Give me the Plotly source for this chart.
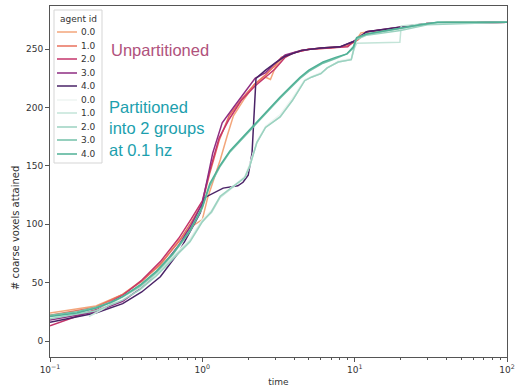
import plotly.graph_objects as go

# ---------------- data ----------------
agent_ids = ["0.0", "1.0", "2.0", "3.0", "4.0"]

# Unpartitioned runs
u0_t = [0.1, 0.2, 0.3, 0.4, 0.53, 0.7, 0.85, 1.0, 1.08, 1.31, 1.45, 1.6, 1.9, 2.2, 2.6, 2.8, 3.0, 3.3, 3.8, 4.5, 6, 8, 10, 11, 14, 20, 30, 40, 100]
u0_v = [24, 30, 40, 52, 65, 86, 98, 104, 122, 155, 175, 193, 208, 220, 226, 224, 234, 241, 246, 249, 251, 252, 256, 264, 266, 269, 272, 273, 273]
u1_t = [0.1, 0.2, 0.3, 0.4, 0.53, 0.7, 0.85, 1.0, 1.12, 1.29, 1.5, 1.8, 2.2, 2.6, 3.0, 3.3, 4, 5, 7, 9, 10.5, 12, 20, 30, 100]
u1_v = [22, 29, 40, 51, 66, 85, 102, 118, 144, 172, 193, 207, 220, 228, 236, 243, 247, 250, 251, 253, 258, 265, 268, 272, 273]
u2_t = [0.1, 0.2, 0.3, 0.4, 0.53, 0.7, 0.85, 1.0, 1.12, 1.29, 1.5, 1.8, 2.2, 2.6, 3.0, 3.5, 4, 5, 7, 9, 10.5, 12, 20, 30, 100]
u2_v = [13, 27, 39, 52, 68, 88, 105, 120, 146, 174, 190, 206, 218, 226, 233, 243, 247, 250, 251, 252, 260, 265, 268, 272, 273]
u3_t = [0.1, 0.2, 0.3, 0.4, 0.53, 0.7, 0.85, 1.0, 1.17, 1.35, 1.6, 2.22, 2.6, 3.0, 3.5, 4.5, 6, 8, 10, 12, 20, 30, 100]
u3_v = [18, 25, 34, 46, 62, 82, 100, 118, 161, 187, 200, 225, 230, 238, 245, 249, 251, 252, 257, 265, 269, 272, 273]
u4_t = [0.1, 0.2, 0.3, 0.4, 0.53, 0.7, 0.85, 0.97, 1.04, 1.37, 1.71, 1.85, 2.0, 2.12, 2.25, 2.6, 3.0, 3.5, 4.5, 6, 8, 10, 12, 20, 30, 100]
u4_v = [16, 24, 32, 42, 55, 76, 96, 110, 123, 131, 133, 136, 142, 161, 225, 232, 238, 244, 249, 251, 252, 257, 265, 269, 272, 273]

# Partitioned into 2 groups at 0.1 hz
p0_t = [0.1, 0.2, 0.3, 0.39, 0.5, 0.64, 0.83, 1.0, 1.15, 1.31, 1.6, 1.9, 2.05, 2.28, 2.6, 3.24, 3.9, 4.7, 6.0, 7.8, 9.5, 10.2, 12, 20, 30, 100]
p0_v = [20, 28, 37, 46, 58, 72, 88, 104, 112, 124, 133, 141, 152, 171, 184, 194, 208, 224, 230, 240, 242, 259, 263, 267, 272, 273]
p1_t = [0.18, 0.22, 0.3, 0.39, 0.5, 0.64, 0.83, 1.0, 1.15, 1.31, 1.6, 1.9, 2.05, 2.28, 2.6, 3.24, 3.9, 4.7, 5.2, 6.0, 6.6, 7.8, 9.5, 9.9, 10.3, 19.8, 20.2, 30, 100]
p1_v = [21, 27, 38, 46, 58, 72, 86, 103, 110, 123, 132, 140, 150, 170, 183, 192, 206, 223, 226, 229, 234, 239, 241, 250, 255, 256, 270, 272, 273]
p2_t = [0.1, 0.2, 0.3, 0.39, 0.5, 0.64, 0.83, 1.0, 1.15, 1.31, 1.6, 1.9, 2.05, 2.28, 2.6, 3.24, 3.9, 4.7, 5.2, 6.0, 6.6, 7.8, 9.5, 9.9, 10.2, 12, 20, 30, 100]
p2_v = [19, 26, 35, 44, 56, 70, 85, 102, 111, 124, 133, 140, 150, 170, 183, 192, 206, 223, 226, 229, 234, 239, 241, 251, 258, 262, 266, 271, 273]
p3_t = [0.1, 0.15, 0.2, 0.25, 0.3, 0.39, 0.5, 0.64, 0.83, 1.0, 1.12, 1.3, 1.52, 1.85, 2.28, 2.7, 3.24, 3.8, 4.38, 5.0, 6.2, 7.5, 8.9, 9.8, 10.3, 12, 15, 20, 27, 35, 100]
p3_v = [22, 25, 29, 33, 38, 47, 59, 74, 94, 114, 133, 149, 162, 174, 186, 197, 208, 217, 225, 231, 238, 242, 246, 251, 259, 263, 265, 268, 271, 273, 273]
p4_t = [0.1, 0.15, 0.2, 0.25, 0.3, 0.39, 0.5, 0.64, 0.83, 1.0, 1.12, 1.3, 1.52, 1.85, 2.28, 2.7, 3.24, 3.8, 4.38, 5.0, 6.2, 7.5, 8.9, 9.8, 10.3, 12, 15, 20, 27, 35, 100]
p4_v = [21, 24, 28, 33, 38, 48, 60, 75, 95, 115, 135, 150, 163, 175, 187, 198, 209, 218, 226, 232, 239, 243, 246, 252, 260, 263, 265, 268, 271, 273, 273]

unpart_colors = ["#f3a67b", "#e8705c", "#c4356b", "#8e2d82", "#4a2367"]
part_colors = ["#eef5f2", "#c3e4d8", "#9bd2c0", "#73c1a8", "#4fb096"]

unpart_series = [(u0_t, u0_v), (u1_t, u1_v), (u2_t, u2_v), (u3_t, u3_v), (u4_t, u4_v)]
part_series = [(p0_t, p0_v), (p1_t, p1_v), (p2_t, p2_v), (p3_t, p3_v), (p4_t, p4_v)]

x_tickvals = [0.1, 1, 10, 100]
x_ticktext = ["10<sup>−1</sup>", "10<sup>0</sup>", "10<sup>1</sup>", "10<sup>2</sup>"]
y_tickvals = [0, 50, 100, 150, 200, 250]

minor_vals = [m * d for d in (0.1, 1, 10) for m in range(2, 10)]

# ---------------- layout helpers ----------------
W, H = 515, 388
ML, MR, MT, MB = 50, 8, 6, 31
PW, PH = W - ML - MR, H - MT - MB


def px(xpix):
    return (xpix - ML) / PW


def py(ypix):
    return (H - MB - ypix) / PH


# ---------------- figure ----------------
fig = go.Figure()
for aid, (t, v), c in zip(agent_ids, unpart_series, unpart_colors):
    fig.add_trace(go.Scatter(x=t, y=v, mode="lines", name=aid, showlegend=False,
                             line=dict(color=c, width=1.5)))
for aid, (t, v), c in zip(agent_ids, part_series, part_colors):
    fig.add_trace(go.Scatter(x=t, y=v, mode="lines", name=aid, showlegend=False,
                             line=dict(color=c, width=1.5)))

axis_common = dict(showline=True, mirror=True, linecolor="#555", linewidth=1,
                   ticks="outside", ticklen=4, tickcolor="#555",
                   showgrid=False, zeroline=False, automargin=False,
                   tickfont=dict(family="DejaVu Sans", size=9, color="#333"))

fig.update_xaxes(type="log", range=[-1, 2], tickvals=x_tickvals, ticktext=x_ticktext,
                 title=dict(text="time", font=dict(family="DejaVu Sans", size=9, color="#333"), standoff=4),
                 minor=dict(ticks="outside", ticklen=2, tickcolor="#555", tickvals=minor_vals),
                 **axis_common)
fig.update_yaxes(range=[-13.7, 287], tickvals=y_tickvals, **axis_common)

# y axis label
fig.add_annotation(xref="paper", yref="paper", x=px(15), y=py(228), xanchor="center", yanchor="middle",
                   text="# coarse voxels attained", textangle=-90, showarrow=False,
                   font=dict(family="DejaVu Sans", size=10, color="#333"))

# text labels inside the plot
fig.add_annotation(xref="paper", yref="paper", x=px(109), y=py(50), xanchor="left", yanchor="middle",
                   text="Unpartitioned", showarrow=False,
                   font=dict(family="Liberation Sans", size=16.5, color="#b0527c"))
fig.add_annotation(xref="paper", yref="paper", x=px(107), y=py(128), xanchor="left", yanchor="middle",
                   align="left", text="Partitioned<br>into 2 groups<br>at 0.1 hz", showarrow=False,
                   font=dict(family="Liberation Sans", size=16.5, color="#1c9fae"))

# legend (drawn as a box with line samples)
fig.add_shape(type="rect", xref="paper", yref="paper", x0=px(54), x1=px(102), y0=py(163), y1=py(10),
              line=dict(color="#d5d5d5", width=1), fillcolor="rgba(255,255,255,0.85)", layer="above")
fig.add_annotation(xref="paper", yref="paper", x=px(78), y=py(19), xanchor="center", yanchor="middle",
                   text="agent id", showarrow=False, font=dict(family="DejaVu Sans", size=9, color="#333"))
legend_rows = [32, 46, 59, 73, 86, 100, 113, 127, 140, 154]
legend_colors = unpart_colors + part_colors
legend_labels = agent_ids + agent_ids
for yrow, col, lab in zip(legend_rows, legend_colors, legend_labels):
    fig.add_shape(type="line", xref="paper", yref="paper", x0=px(57), x1=px(77), y0=py(yrow), y1=py(yrow),
                  line=dict(color=col, width=1.5), layer="above")
    fig.add_annotation(xref="paper", yref="paper", x=px(98), y=py(yrow), xanchor="right", yanchor="middle",
                       text=lab, showarrow=False, font=dict(family="DejaVu Sans", size=9, color="#333"))

fig.update_layout(
    width=W, height=H,
    margin=dict(l=ML, r=MR, t=MT, b=MB),
    paper_bgcolor="white", plot_bgcolor="white",
    font=dict(family="DejaVu Sans", size=9, color="#333"),
    showlegend=False,
)

fig.write_html("out.html")
